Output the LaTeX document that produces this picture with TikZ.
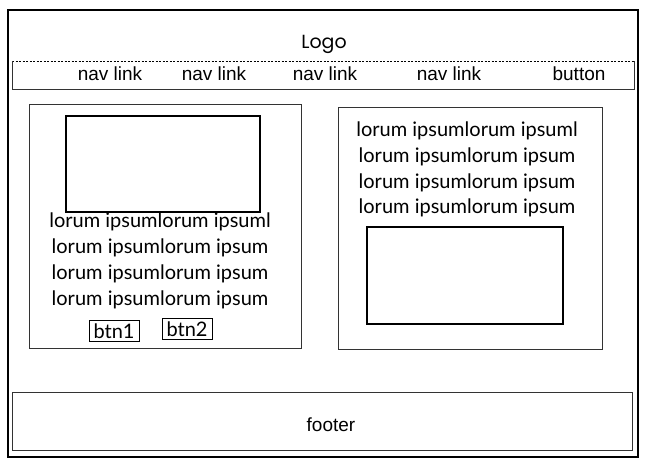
\documentclass[tikz,border=0pt]{standalone}
\usepackage{fontspec}
\setmainfont{Liberation Sans}
\newfontfamily\handfont{Lato}
\newfontfamily\logofont{Poppins}
\begin{document}
\begin{tikzpicture}[x=1pt,y=-1pt,
  panel/.style={draw=black!80,line width=0.8pt},
  imgbox/.style={draw,line width=1.3pt},
  navtext/.style={font=\fontsize{19}{21}\selectfont},
  handtext/.style={font=\handfont\fontsize{20}{22}\selectfont},
  btnbox/.style={draw,line width=0.9pt,handtext,minimum width=50pt,minimum height=21pt,inner sep=0pt}]
\useasboundingbox (0,0) rectangle (647,464);
% page frame
\draw[line width=1.3pt] (8,10) rectangle (638,457);
% header
\node[font=\logofont\fontsize{19}{21}\selectfont] (logo) at (324,44) {Logo};
\draw[dash pattern=on 2pt off 1.5pt] (12,61) -- (634,61);
\draw[panel] (634,61) -- (634,89) -- (12,89) -- (12,61);
\foreach \x/\t [count=\i] in {110/nav link,214/nav link,325/nav link,449/nav link,579/button}
{
    \node[navtext] (nav\i) at (\x,74) {\t};
}
% left column
\draw[panel] (29,104) rectangle (301,348);
\draw[imgbox] (66,116) rectangle (260,212);
\foreach \y/\t [count=\i] in {222/lorum ipsumlorum ipsuml,248/lorum ipsumlorum ipsum,274/lorum ipsumlorum ipsum,300/lorum ipsumlorum ipsum}
{
    \node[handtext] (ltext\i) at (160,\y) {\t};
}
\node[btnbox] (btn1) at (114,331) {btn1};
\node[btnbox] (btn2) at (187,329) {btn2};
% right column
\draw[panel] (338,107) rectangle (602,349);
\foreach \y/\t [count=\i] in {131/lorum ipsumlorum ipsuml,157/lorum ipsumlorum ipsum,183/lorum ipsumlorum ipsum,208/lorum ipsumlorum ipsum}
{
    \node[handtext] (rtext\i) at (467,\y) {\t};
}
\draw[imgbox] (367,227) rectangle (563,324);
% footer
\draw[panel] (12,392) rectangle (632,450);
\node[navtext] (footer) at (331,425) {footer};
\end{tikzpicture}
\end{document}
